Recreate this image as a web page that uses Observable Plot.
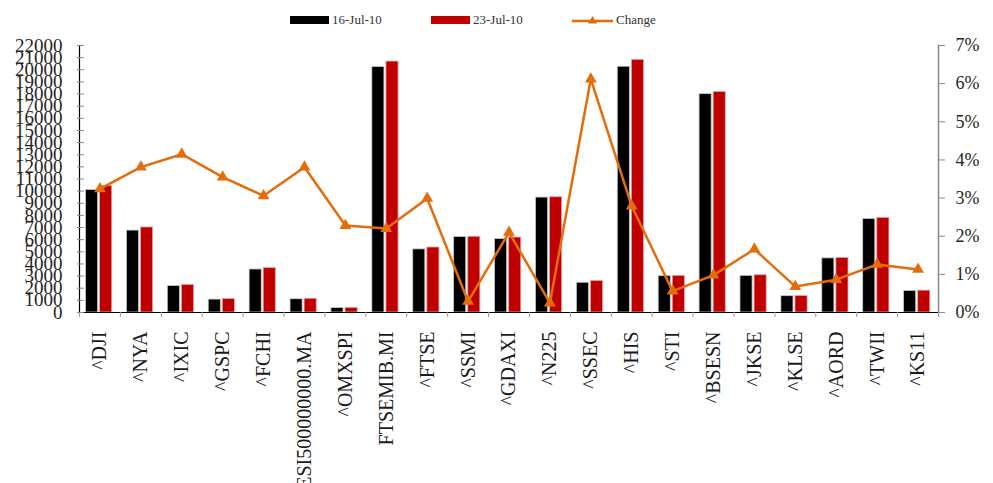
<!DOCTYPE html>
<html>
<head>
<meta charset="utf-8">
<script src="https://cdn.jsdelivr.net/npm/d3@7"></script>
<script src="https://cdn.jsdelivr.net/npm/@observablehq/plot@0.6"></script>
<style>
  body { margin: 0; background: #fff; width: 993px; height: 483px; overflow: hidden; font-family: "Liberation Serif", "DejaVu Serif", serif; }
  #legend { position: relative; height: 36px; font-size: 13px; color: #333; }
  .item { position: absolute; top: 13px; display: flex; align-items: center; height: 14px; }
  .sw { width: 39px; height: 8px; margin-right: 3px; }
  #chart svg { display: block; }
</style>
</head>
<body>
<div id="legend"></div>
<div id="chart"></div>
<script>
const categories = ["^DJI","^NYA","^IXIC","^GSPC","^FCHI","ESI500000000.MA","^OMXSPI","FTSEMIB.MI","^FTSE","^SSMI","^GDAXI","^N225","^SSEC","^HIS","^STI","^BSESN","^JKSE","^KLSE","^AORD","^TWII","^KS11"];
const seriesNames = ["16-Jul-10", "23-Jul-10", "Change"];
const jul16 = [10098, 6750, 2179, 1065, 3545, 1090, 370, 20230, 5200, 6220, 6050, 9470, 2450, 20250, 2995, 17990, 3020, 1345, 4460, 7700, 1780];
const jul23 = [10425, 7007, 2269, 1103, 3655, 1131, 378, 20675, 5355, 6238, 6177, 9495, 2600, 20815, 3012, 18165, 3070, 1354, 4498, 7797, 1800];
const change = [3.24, 3.81, 4.15, 3.55, 3.06, 3.81, 2.28, 2.20, 2.99, 0.29, 2.10, 0.25, 6.12, 2.79, 0.56, 0.98, 1.66, 0.68, 0.86, 1.26, 1.13];
const leftTicks = d3.range(0, 22001, 1000);
const pctTicks = [0, 1, 2, 3, 4, 5, 6, 7];

const colors = {a: "#000000", b: "#C00000", c: "#E46C0A"};
const yMax = 22000, pctMax = 7;
const toY = p => p / pctMax * yMax;   // map percent onto the shared y scale

const rows = categories.map((c, i) => ({cat: c, a: jul16[i], b: jul23[i], chg: change[i]}));

// Legend
const legend = document.getElementById("legend");
legend.innerHTML = `
  <div class="item" style="left:290px"><div class="sw" style="background:${colors.a}"></div>${seriesNames[0]}</div>
  <div class="item" style="left:431px"><div class="sw" style="background:${colors.b}"></div>${seriesNames[1]}</div>
  <div class="item" style="left:572px"><svg width="41" height="12" style="margin-right:3px"><line x1="0" x2="41" y1="7" y2="7" stroke="${colors.c}" stroke-width="2.5"/><path d="M20.5,2 L25,9.5 L16,9.5 Z" fill="${colors.c}"/></svg>${seriesNames[2]}</div>`;

const W = 993, H = 447, mL = 79, mR = 55, mT = 9, mB = 171;
const step = (W - mL - mR) / categories.length;

const chart = Plot.plot({
  width: W, height: H,
  marginLeft: mL, marginRight: mR, marginTop: mT, marginBottom: mB,
  style: {fontFamily: "Liberation Serif, serif", fontSize: "18px", color: "#262626", background: "white", overflow: "visible"},
  x: {type: "band", domain: categories, padding: 0, round: false, label: null},
  y: {domain: [0, yMax], label: null},
  marks: [
    Plot.barY(rows, {x: "cat", y: "a", fill: colors.a, stroke: "#c8c8c8", strokeWidth: 0.8, insetLeft: 6.5, insetRight: 22.3}),
    Plot.barY(rows, {x: "cat", y: "b", fill: colors.b, stroke: "#e6a3a3", strokeWidth: 0.8, insetLeft: 20.6, insetRight: 8.2}),
    Plot.ruleY([0], {stroke: "#000", strokeWidth: 1.2}),
    Plot.frame({anchor: "left", stroke: "#000", strokeWidth: 1.2}),
    Plot.frame({anchor: "right", stroke: "#888", strokeWidth: 1.5}),
    // left axis: cross ticks + labels
    Plot.axisY(leftTicks, {anchor: "left", tickSize: 7, dx: 5, tickFormat: () => "", stroke: "#8a8a8a"}),
    Plot.axisY(leftTicks, {anchor: "left", tickSize: 0, tickPadding: 17, tickFormat: d => String(d), fontSize: 19, fill: "#262626"}),
    // right percent axis
    Plot.axisY(pctTicks.map(toY), {anchor: "right", tickSize: 6, tickPadding: 11, tickFormat: (d, i) => pctTicks[i] + "%", fontSize: 18, stroke: "#8a8a8a", fill: "#262626"}),
    // category boundary ticks
    Plot.axisX({tickSize: 5, tickFormat: () => "", dx: -step / 2, stroke: "#999"}),
    Plot.axisX([categories[categories.length - 1]], {tickSize: 5, tickFormat: () => "", dx: step / 2, stroke: "#999"}),
    // category labels
    Plot.axisX({tickSize: 0, tickPadding: 19, tickRotate: -90, fontSize: 20, fill: "#1a1a1a"}),
    // change line
    Plot.line(rows, {x: "cat", y: d => toY(d.chg), stroke: colors.c, strokeWidth: 2.5}),
    Plot.dot(rows, {x: "cat", y: d => toY(d.chg), symbol: "triangle", r: 4.4, fill: colors.c, stroke: null})
  ]
});
document.getElementById("chart").appendChild(chart);
</script>
</body>
</html>
